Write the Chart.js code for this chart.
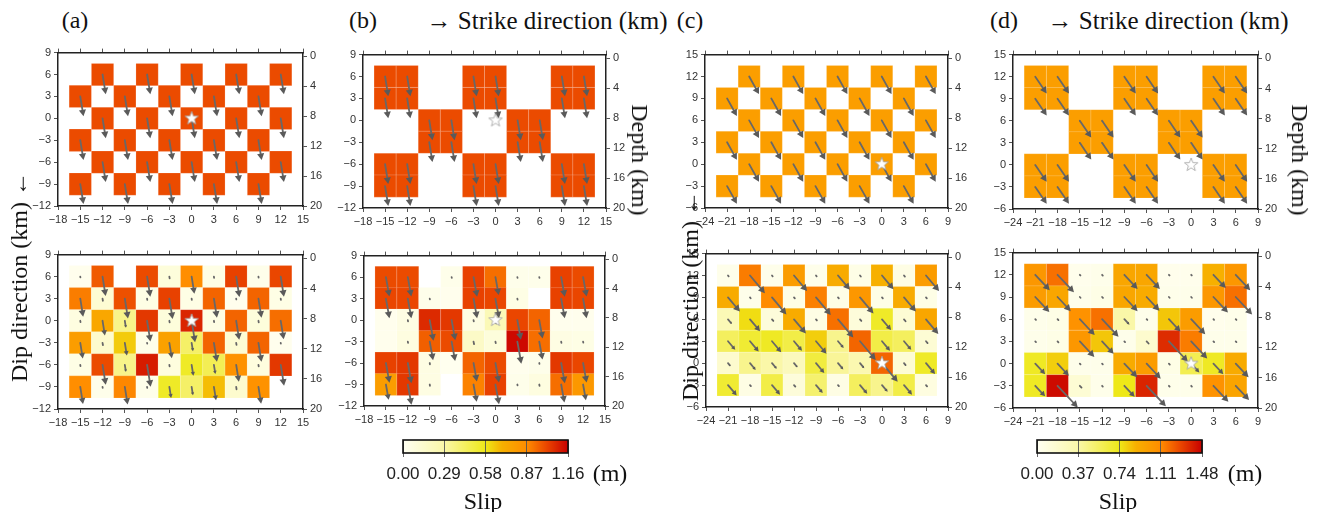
<!DOCTYPE html>
<html>
<head>
<meta charset="utf-8">
<title>Checkerboard resolution tests</title>
<script src="https://cdn.jsdelivr.net/npm/chart.js@4.4.1/dist/chart.umd.min.js"></script>
<style>
  html, body { margin: 0; padding: 0; background: #fff; }
  #fig { position: relative; width: 1319px; height: 512px; overflow: hidden; }
  #fig canvas { position: absolute; }
  .lbl { position: absolute; white-space: nowrap; line-height: 1;
         font-family: "Liberation Serif", "DejaVu Serif", serif; font-size: 24px; color: #111; }
  .lbl.big { font-size: 25px; }
</style>
</head>
<body>
<div id="fig"></div>
<script>
// subfault centres (km)
const strikeAB = [-15, -12, -9, -6, -3, 0, 3, 6, 9, 12];
const dipAB = [6, 3, 0, -3, -6, -9];
const strikeCD = [-21, -18, -15, -12, -9, -6, -3, 0, 3, 6];
const dipCD = [12, 9, 6, 3, 0, -3];

// axis ticks
const strikeTicksAB = [-18, -15, -12, -9, -6, -3, 0, 3, 6, 9, 12, 15];
const dipTicksAB = [-12, -9, -6, -3, 0, 3, 6, 9];
const strikeTicksCD = [-24, -21, -18, -15, -12, -9, -6, -3, 0, 3, 6, 9];
const dipTicksCD = [-6, -3, 0, 3, 6, 9, 12, 15];
const depthTicks = [0, 4, 8, 12, 16, 20];
const slipTicksAB = [0, 0.29, 0.58, 0.87, 1.16];
const slipTicksCD = [0, 0.37, 0.74, 1.11, 1.48];

// hypocentre
const hypocentre = [{ x: 0, y: 0 }];

// input checkerboards, slip in m
const inputSmall = [
  [0, 1, 0, 1, 0, 1, 0, 1, 0, 1],
  [1, 0, 1, 0, 1, 0, 1, 0, 1, 0],
  [0, 1, 0, 1, 0, 1, 0, 1, 0, 1],
  [1, 0, 1, 0, 1, 0, 1, 0, 1, 0],
  [0, 1, 0, 1, 0, 1, 0, 1, 0, 1],
  [1, 0, 1, 0, 1, 0, 1, 0, 1, 0]
];
const inputLarge = [
  [1, 1, 0, 0, 1, 1, 0, 0, 1, 1],
  [1, 1, 0, 0, 1, 1, 0, 0, 1, 1],
  [0, 0, 1, 1, 0, 0, 1, 1, 0, 0],
  [0, 0, 1, 1, 0, 0, 1, 1, 0, 0],
  [1, 1, 0, 0, 1, 1, 0, 0, 1, 1],
  [1, 1, 0, 0, 1, 1, 0, 0, 1, 1]
];

// recovered slip, m
const recoveredA = [
  [0.02, 0.97, 0.00, 1.00, 0.09, 0.86, 0.05, 1.02, 0.03, 1.01],
  [0.90, 0.12, 0.99, 0.05, 1.02, 0.05, 0.95, 0.02, 0.95, 0.05],
  [0.07, 0.74, 0.35, 1.04, 0.09, 1.08, 0.06, 0.95, 0.09, 0.93],
  [0.79, 0.14, 0.64, 0.03, 0.77, 0.42, 0.95, 0.12, 0.95, 0.02],
  [0.05, 1.00, 0.35, 1.10, 0.08, 0.55, 0.46, 0.84, 0.08, 1.04],
  [0.86, 0.03, 0.88, 0.03, 0.55, 0.42, 0.67, 0.14, 0.84, 0.00]
];
const recoveredB = [
  [1.00, 1.00, 0.00, 0.03, 1.02, 0.93, 0.03, 0.03, 1.02, 1.00],
  [1.01, 1.01, 0.03, 0.02, 1.02, 1.01, 0.05, 0.00, 1.02, 1.01],
  [0.02, 0.06, 1.07, 1.04, 0.06, 0.23, 1.01, 0.95, 0.02, 0.02],
  [0.02, 0.07, 0.96, 1.00, 0.17, 0.09, 1.14, 0.93, 0.06, 0.05],
  [1.02, 1.04, 0.06, 0.01, 0.95, 1.00, 0.02, 0.03, 1.04, 1.01],
  [0.79, 1.04, 0.06, 0.00, 0.89, 1.02, 0.03, 0.07, 0.93, 0.81]
];
const recoveredC = [
  [0.04, 1.15, 0.04, 1.01, 0.04, 0.92, 0.06, 0.89, 0.07, 1.01],
  [0.92, 0.04, 1.11, 0.06, 1.14, 0.06, 1.04, 0.06, 0.92, 0.06],
  [0.30, 0.77, 0.12, 0.92, 0.07, 1.18, 0.12, 0.70, 0.15, 0.95],
  [0.56, 0.67, 0.71, 0.62, 0.81, 0.44, 1.21, 0.62, 0.56, 0.15],
  [0.18, 0.44, 0.37, 0.27, 0.64, 0.41, 0.33, 1.21, 0.15, 0.70],
  [0.67, 0.07, 0.62, 0.12, 0.52, 0.07, 0.56, 0.44, 0.62, 0.09]
];
const recoveredD = [
  [1.04, 1.18, 0.03, 0.04, 0.95, 0.95, 0.03, 0.03, 0.89, 1.04],
  [1.01, 0.95, 0.04, 0.06, 0.95, 0.92, 0.04, 0.04, 1.04, 1.18],
  [0.04, 0.06, 1.07, 1.18, 0.37, 0.04, 0.83, 1.01, 0.03, 0.04],
  [0.04, 0.06, 1.04, 0.83, 0.04, 0.18, 1.36, 1.15, 0.04, 0.04],
  [0.71, 0.81, 0.04, 0.04, 0.92, 1.01, 0.06, 0.59, 0.71, 0.92],
  [0.71, 1.45, 0.15, 0.04, 0.74, 1.38, 0.04, 0.04, 1.07, 0.96]
];

// colour scale (fraction of max slip -> rgb)
const CMAP_POS = [0, 0.25, 0.5, 0.6, 0.75, 0.87, 1];
const CMAP_RGB = [[255, 255, 242], [250, 247, 168], [238, 232, 24], [247, 176, 0], [255, 140, 0], [234, 70, 0], [200, 0, 0]];

const KM_PER_M = 2.75;   // arrow length scale
const LW = 32, RW = 30, TH = 8, BH = 20;
const tickFont = { family: '"Liberation Sans", Arial, sans-serif', size: 11 };

function slipColor(f) {
  f = Math.max(0, Math.min(1, f));
  for (let k = 1; k < CMAP_POS.length; k++) {
    if (f <= CMAP_POS[k]) {
      const t = (f - CMAP_POS[k - 1]) / (CMAP_POS[k] - CMAP_POS[k - 1]);
      const a = CMAP_RGB[k - 1], b = CMAP_RGB[k];
      return 'rgb(' + a.map((v, i) => Math.round(v + (b[i] - v) * t)).join(',') + ')';
    }
  }
  return 'rgb(200,0,0)';
}

function cellsFrom(xs, ys, slip) {
  const out = [];
  ys.forEach((y, j) => xs.forEach((x, i) => out.push({ x: x, y: y, v: slip[j][i] })));
  return out;
}

const minus = v => (v < 0 ? '\u2212' + Math.abs(v) : String(v));

function starImage() {
  const c = document.createElement('canvas');
  c.width = c.height = 18;
  const g = c.getContext('2d');
  g.beginPath();
  for (let k = 0; k < 10; k++) {
    const rr = k % 2 ? 2.9 : 7;
    const a = -Math.PI / 2 + k * Math.PI / 5;
    g.lineTo(9 + rr * Math.cos(a), 9 + rr * Math.sin(a));
  }
  g.closePath();
  g.fillStyle = '#fff';
  g.fill();
  g.strokeStyle = '#a0a0a0';
  g.lineWidth = 0.8;
  g.stroke();
  return c;
}
const star = starImage();

function drawArrow(ctx, x0, y0, x1, y1) {
  const dx = x1 - x0, dy = y1 - y0, len = Math.hypot(dx, dy);
  if (len < 0.4) return;
  const ux = dx / len, uy = dy / len;
  const hl = Math.min(6.5, len * 0.35), hw = hl * 0.55;
  const bx = x1 - ux * hl, by = y1 - uy * hl;
  ctx.beginPath();
  ctx.moveTo(x0, y0);
  ctx.lineTo(bx + ux * 0.5, by + uy * 0.5);
  ctx.stroke();
  ctx.beginPath();
  ctx.moveTo(x1, y1);
  ctx.lineTo(bx - uy * hw, by + ux * hw);
  ctx.lineTo(bx + uy * hw, by - ux * hw);
  ctx.closePath();
  ctx.fill();
}

// slip vectors drawn right after the cell layer, before the star
const slipArrows = {
  id: 'slipArrows',
  afterDatasetDraw(chart, args, opts) {
    if (args.index !== 1) return;
    const sx = chart.scales.x, sy = chart.scales.y, ctx = chart.ctx;
    const r = opts.rake * Math.PI / 180;
    ctx.save();
    ctx.strokeStyle = '#686868';
    ctx.fillStyle = '#5a5a5a';
    ctx.lineWidth = 1.8;
    ctx.lineCap = 'round';
    chart.data.datasets[1].data.forEach(c => {
      if (!(c.v > 0)) return;
      const ex = c.x + KM_PER_M * c.v * Math.cos(r);
      const ey = c.y + KM_PER_M * c.v * Math.sin(r);
      drawArrow(ctx, sx.getPixelForValue(c.x), sy.getPixelForValue(c.y),
        sx.getPixelForValue(ex), sy.getPixelForValue(ey));
    });
    ctx.restore();
  }
};

const fig = document.getElementById('fig');

function addCanvas(left, top, w, h) {
  const cv = document.createElement('canvas');
  cv.width = w; cv.height = h;
  cv.style.left = left + 'px'; cv.style.top = top + 'px';
  cv.style.width = w + 'px'; cv.style.height = h + 'px';
  fig.appendChild(cv);
  return cv;
}

function edgeAxis(extra) {
  return Object.assign({
    type: 'linear',
    grid: { drawOnChartArea: false, tickLength: 4, color: '#555', lineWidth: 1 },
    border: { display: true, color: '#222', width: 1.5 },
    ticks: { autoSkip: false, maxRotation: 0, minRotation: 0, color: '#333', font: tickFont, callback: minus }
  }, extra);
}

function makePanel(p) {
  const [left, top, w, h] = p.box;
  const cv = addCanvas(left - LW, top - TH, w + LW + RW, h + TH + BH);
  const cellHalf = chart => {
    const sx = chart.scales.x;
    return Math.abs(sx.getPixelForValue(3) - sx.getPixelForValue(0)) / Math.SQRT2;
  };
  const xMin = p.xt[0], xMax = p.xt[p.xt.length - 1];
  const yMin = p.yt[0], yMax = p.yt[p.yt.length - 1];
  new Chart(cv, {
    type: 'scatter',
    data: {
      datasets: [
        { label: 'hypocentre', data: hypocentre, order: 0, pointStyle: star, pointRadius: 6 },
        {
          label: 'cells', data: cellsFrom(p.xs, p.ys, p.slip), order: 1,
          pointStyle: 'rect',
          pointRadius: c => (c.raw && c.raw.v > 0 ? cellHalf(c.chart) : 0),
          backgroundColor: c => (c.raw ? slipColor(c.raw.v / p.vmax) : '#fff'),
          borderColor: 'rgba(255,255,255,0.16)',
          borderWidth: 1
        }
      ]
    },
    options: {
      responsive: false, animation: false, events: [],
      layout: { padding: 0 },
      plugins: { legend: { display: false }, tooltip: { enabled: false }, slipArrows: { rake: p.rake } },
      scales: {
        x: edgeAxis({
          position: 'bottom', min: xMin, max: xMax,
          afterBuildTicks: s => { s.ticks = p.xt.map(v => ({ value: v })); },
          afterFit: s => { s.height = BH; }
        }),
        xTop: edgeAxis({
          axis: 'x', position: 'top', min: xMin, max: xMax,
          afterBuildTicks: s => { s.ticks = p.xt.map(v => ({ value: v })); },
          afterFit: s => { s.height = TH; },
          ticks: { display: false }
        }),
        y: edgeAxis({
          position: 'left', min: yMin, max: yMax,
          afterBuildTicks: s => { s.ticks = p.yt.map(v => ({ value: v })); },
          afterFit: s => { s.width = LW; }
        }),
        depth: edgeAxis({
          axis: 'y', position: 'right', reverse: true, min: -0.5, max: 20,
          afterBuildTicks: s => { s.ticks = depthTicks.map(v => ({ value: v })); },
          afterFit: s => { s.width = RW; }
        })
      }
    },
    plugins: [slipArrows]
  });
}

// colour bar: gradient under the axis grid, box on top
const colorBar = {
  id: 'colorBar',
  beforeDraw(chart) {
    const a = chart.chartArea, ctx = chart.ctx;
    const g = ctx.createLinearGradient(a.left, 0, a.right, 0);
    CMAP_POS.forEach((s, i) => g.addColorStop(s, 'rgb(' + CMAP_RGB[i].join(',') + ')'));
    ctx.save();
    ctx.fillStyle = g;
    ctx.fillRect(a.left, a.top, a.right - a.left, a.bottom - a.top);
    ctx.restore();
  },
  afterDraw(chart) {
    const a = chart.chartArea, ctx = chart.ctx;
    ctx.save();
    ctx.strokeStyle = '#111';
    ctx.lineWidth = 1.6;
    ctx.strokeRect(a.left, a.top, a.right - a.left, a.bottom - a.top);
    ctx.restore();
  }
};

function makeColorBar(cb) {
  const [left, top, w, h] = cb.box;
  const PX = 45, PT = 3, PB = 34;
  const cv = addCanvas(left - PX, top - PT, w + 2 * PX, h + PT + PB);
  new Chart(cv, {
    type: 'scatter',
    data: { datasets: [] },
    options: {
      responsive: false, animation: false, events: [],
      layout: { padding: { left: PX, right: PX, top: PT, bottom: 0 } },
      plugins: { legend: { display: false }, tooltip: { enabled: false } },
      scales: {
        x: {
          type: 'linear', position: 'bottom', min: 0, max: cb.ticks[cb.ticks.length - 1],
          afterBuildTicks: s => { s.ticks = cb.ticks.map(v => ({ value: v })); },
          afterFit: s => { s.height = PB; },
          grid: { drawOnChartArea: true, tickLength: 4, color: '#555', lineWidth: 0.9 },
          border: { display: false },
          ticks: {
            autoSkip: false, maxRotation: 0, padding: 7, color: '#222',
            font: { family: '"Liberation Sans", Arial, sans-serif', size: 17 },
            callback: v => v.toFixed(2)
          }
        },
        y: { type: 'linear', display: false, min: 0, max: 1 }
      }
    },
    plugins: [colorBar]
  });
}

const panels = [
  { box: [58, 51, 245, 155], xs: strikeAB, ys: dipAB, xt: strikeTicksAB, yt: dipTicksAB, slip: inputSmall, vmax: 1.16, rake: -81 },
  { box: [58, 253, 245, 156], xs: strikeAB, ys: dipAB, xt: strikeTicksAB, yt: dipTicksAB, slip: recoveredA, vmax: 1.16, rake: -81 },
  { box: [363, 53, 243, 155], xs: strikeAB, ys: dipAB, xt: strikeTicksAB, yt: dipTicksAB, slip: inputLarge, vmax: 1.16, rake: -81 },
  { box: [364, 254, 241, 152], xs: strikeAB, ys: dipAB, xt: strikeTicksAB, yt: dipTicksAB, slip: recoveredB, vmax: 1.16, rake: -80 },
  { box: [705, 53, 243, 155], xs: strikeCD, ys: dipCD, xt: strikeTicksCD, yt: dipTicksCD, slip: inputSmall, vmax: 1.48, rake: -61 },
  { box: [706, 252, 242, 155], xs: strikeCD, ys: dipCD, xt: strikeTicksCD, yt: dipTicksCD, slip: recoveredC, vmax: 1.48, rake: -50 },
  { box: [1013, 53, 245, 156], xs: strikeCD, ys: dipCD, xt: strikeTicksCD, yt: dipTicksCD, slip: inputLarge, vmax: 1.48, rake: -56 },
  { box: [1013, 251, 245, 157], xs: strikeCD, ys: dipCD, xt: strikeTicksCD, yt: dipTicksCD, slip: recoveredD, vmax: 1.48, rake: -47 }
];
panels.forEach(makePanel);

makeColorBar({ box: [403, 440, 165, 13], ticks: slipTicksAB });
makeColorBar({ box: [1037, 440, 165, 13], ticks: slipTicksCD });

// text labels (text, centre x, centre y, rotation, larger)
const labels = [
  ['(a)', 75, 20, 0], ['(b)', 363, 20, 0], ['\u2192  Strike direction (km)', 547, 20, 0, true],
  ['(c)', 690, 20, 0], ['(d)', 1004, 20, 0], ['\u2192  Strike direction (km)', 1168, 20, 0, true],
  ['Dip direction (km) \u2190', 19, 277, -90], ['Dip direction (km) \u2190', 690, 296, -90],
  ['Depth (km)', 640, 160, 90], ['Depth (km)', 1300, 160, 90],
  ['(m)', 610, 473, 0], ['Slip', 483, 501, 0],
  ['(m)', 1245, 473, 0], ['Slip', 1118, 501, 0]
];
labels.forEach(([t, cx, cy, rot, big]) => {
  const d = document.createElement('div');
  d.className = big ? 'lbl big' : 'lbl';
  d.textContent = t;
  d.style.left = cx + 'px';
  d.style.top = cy + 'px';
  d.style.transform = 'translate(-50%, -50%) rotate(' + rot + 'deg)';
  fig.appendChild(d);
});
</script>
</body>
</html>
